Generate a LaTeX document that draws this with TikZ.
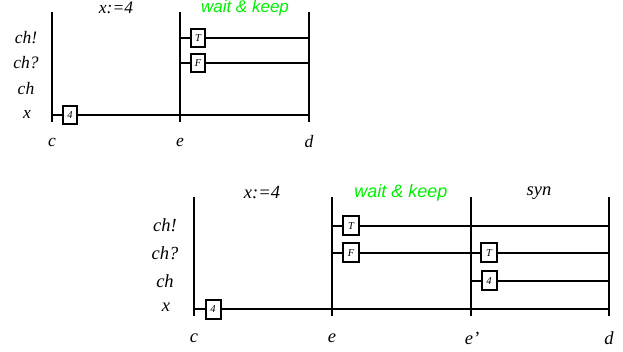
\documentclass[tikz,border=0pt]{standalone}
\usepackage{fontspec}
\setmainfont{Liberation Serif}
\setsansfont{Liberation Sans}
\usepackage{tikz}
\usetikzlibrary{positioning}
\usepackage{xcolor}
\definecolor{waitgreen}{HTML}{00F000}

\begin{document}
\begin{tikzpicture}[x=1pt, y=-1pt,
  bar/.style={line width=2pt},
  track/.style={line width=2pt},
  slot/.style={draw, line width=2pt, fill=white, inner sep=0pt, minimum width=14pt, minimum height=18pt, font=\fontsize{10.5}{10.5}\selectfont\itshape},
  lab/.style={font=\fontsize{17.5}{17.5}\selectfont\itshape},
  labb/.style={font=\fontsize{18.5}{18.5}\selectfont\itshape}]
\useasboundingbox (0,0) rectangle (623,352);

\coordinate (c1top) at (52,12);
\coordinate (c1bot) at (52,122);
\coordinate (e1top) at (180,12);
\coordinate (e1bot) at (180,122);
\coordinate (d1top) at (309,12);
\coordinate (d1bot) at (309,122);
\draw[bar] (c1top) -- (c1bot);
\draw[bar] (e1top) -- (e1bot);
\draw[bar] (d1top) -- (d1bot);

\node[lab] (sendA) at (26,38) {ch!};
\node[lab] (recvA) at (26,63) {ch?};
\node[lab] (chanA) at (26,89) {ch};
\node[lab] (varA) at (27,114) {x};
\node[lab] (cA) at (52,142) {c};
\node[lab] (eA) at (180,142) {e};
\node[lab] (dA) at (309,142) {d};
\node[lab] (assignA) at (116,8) {x:=4};
\node[lab, font=\fontsize{17}{17}\selectfont\sffamily\itshape, text=waitgreen] (waitA) at (245,8) {wait \& keep};

\node[slot] (fourA) at (70,115) {4};
\node[slot] (trueA) at (198,38) {T};
\node[slot] (falseA) at (198,63) {F};

\coordinate (c1x) at (52,115);
\coordinate (d1x) at (309,115);
\coordinate (e1send) at (180,38);
\coordinate (d1send) at (309,38);
\coordinate (e1recv) at (180,63);
\coordinate (d1recv) at (309,63);
\draw[track] (c1x) -- (fourA) -- (d1x);
\draw[track] (e1send) -- (trueA) -- (d1send);
\draw[track] (e1recv) -- (falseA) -- (d1recv);

\coordinate (c2top) at (194,197);
\coordinate (c2bot) at (194,316);
\coordinate (e2top) at (332,197);
\coordinate (e2bot) at (332,316);
\coordinate (f2top) at (471,197);
\coordinate (f2bot) at (471,316);
\coordinate (d2top) at (609,197);
\coordinate (d2bot) at (609,316);
\draw[bar] (c2top) -- (c2bot);
\draw[bar] (e2top) -- (e2bot);
\draw[bar] (f2top) -- (f2bot);
\draw[bar] (d2top) -- (d2bot);

\node[labb] (sendB) at (165,225) {ch!};
\node[labb] (recvB) at (165,253) {ch?};
\node[labb] (chanB) at (165,281) {ch};
\node[labb] (varB) at (166,307) {x};
\node[labb] (cB) at (194,338) {c};
\node[labb] (eB) at (332,338) {e};
\node[labb] (fB) at (472,338) {e'};
\node[labb] (dB) at (609,338) {d};
\node[labb] (assignB) at (262,193) {x:=4};
\node[labb, font=\fontsize{18}{18}\selectfont\sffamily\itshape, text=waitgreen] (waitB) at (401,193) {wait \& keep};
\node[labb] (synB) at (539,193) {syn};

\node[slot, minimum width=15pt, minimum height=19pt] (fourB) at (213,309) {4};
\node[slot, minimum width=16pt, minimum height=19pt] (trueB) at (351,226) {T};
\node[slot, minimum width=16pt, minimum height=19pt] (falseB) at (351,253) {F};
\node[slot, minimum width=16pt, minimum height=19pt] (trueC) at (489,253) {T};
\node[slot, minimum width=15pt, minimum height=19pt] (fourC) at (489,281) {4};

\coordinate (c2x) at (194,309);
\coordinate (d2x) at (609,309);
\coordinate (e2send) at (332,226);
\coordinate (d2send) at (609,226);
\coordinate (e2recv) at (332,253);
\coordinate (d2recv) at (609,253);
\coordinate (f2chan) at (471,281);
\coordinate (d2chan) at (609,281);
\draw[track] (c2x) -- (fourB) -- (d2x);
\draw[track] (e2send) -- (trueB) -- (d2send);
\draw[track] (e2recv) -- (falseB) -- (trueC) -- (d2recv);
\draw[track] (f2chan) -- (fourC) -- (d2chan);
\end{tikzpicture}
\end{document}
